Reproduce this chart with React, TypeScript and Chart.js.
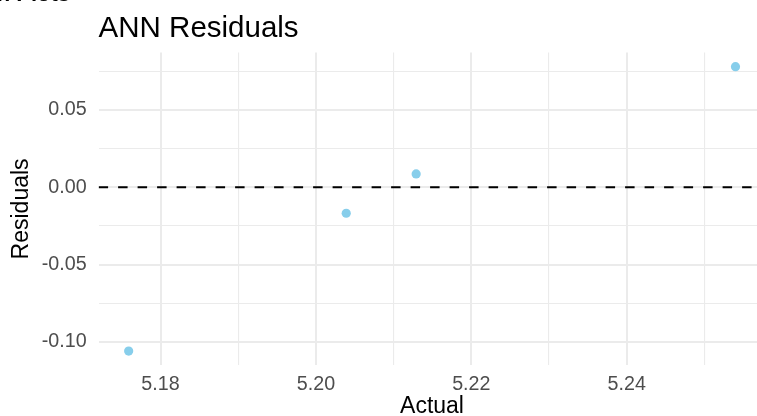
import React, { useEffect, useRef } from "react";
import { Chart, registerables } from "chart.js";

Chart.register(...registerables);

// ---- data ----
const actual = [5.1759, 5.2039, 5.2129, 5.254];
const residuals = [-0.106, -0.0168, 0.0086, 0.078];
const xMajorTicks = [5.18, 5.2, 5.22, 5.24];
const xMinorTicks = [5.19, 5.21, 5.23, 5.25];
const yMajorTicks = [-0.1, -0.05, 0, 0.05];
const yMinorTicks = [-0.075, -0.025, 0.025, 0.075];
const xLimits = [5.17203, 5.25785];
const yLimits = [-0.1152, 0.0872];
const referenceLineY = 0;
const titleText = "ANN Residuals";
const xTitle = "Actual";
const yTitle = "Residuals";
const headingText = "n Plots";

const FONT = '"Liberation Sans", Arial, Helvetica, sans-serif';

const isIn = (arr: number[], v: number) => arr.some((a) => Math.abs(a - v) < 1e-9);

export default function App() {
  const canvasRef = useRef<HTMLCanvasElement | null>(null);

  useEffect(() => {
    const canvas = canvasRef.current;
    if (!canvas) return;

    const titlePlugin = {
      id: "customTitle",
      afterDraw(chart: any) {
        const ctx = chart.ctx;
        ctx.save();
        ctx.fillStyle = "#000000";
        ctx.textBaseline = "alphabetic";
        ctx.textAlign = "left";
        ctx.font = `29.5px ${FONT}`;
        ctx.fillText(titleText, chart.chartArea.left, 36.7);
        ctx.font = `bold 22px ${FONT}`;
        ctx.textAlign = "right";
        ctx.fillText(headingText, 70, 0.8);
        ctx.restore();
      },
    };

    const chart = new Chart(canvas, {
      type: "scatter",
      data: {
        datasets: [
          {
            type: "scatter",
            label: "Residuals",
            data: actual.map((x, i) => ({ x, y: residuals[i] })),
            backgroundColor: "#87CEEB",
            borderWidth: 0,
            pointRadius: 4.6,
            pointHoverRadius: 4.6,
            order: 0,
          },
          {
            type: "line",
            label: "zero",
            data: [
              { x: xLimits[0], y: referenceLineY },
              { x: xLimits[1], y: referenceLineY },
            ],
            borderColor: "#000000",
            borderWidth: 2,
            borderDash: [9.5, 10],
            pointRadius: 0,
            fill: false,
            order: 1,
          } as any,
        ],
      },
      options: {
        responsive: false,
        animation: false,
        layout: { padding: { top: 52.5, right: 2.6, bottom: 0, left: 0 } },
        plugins: {
          legend: { display: false },
          tooltip: { enabled: false },
          title: { display: false },
        },
        scales: {
          x: {
            type: "linear",
            min: xLimits[0],
            max: xLimits[1],
            afterBuildTicks: (s: any) => {
              s.ticks = [...xMajorTicks, ...xMinorTicks]
                .sort((a, b) => a - b)
                .map((value) => ({ value }));
            },
            afterFit: (s: any) => {
              s.height = 50.7;
            },
            ticks: {
              autoSkip: false,
              maxRotation: 0,
              padding: 7,
              color: "#4D4D4D",
              font: { family: FONT, size: 19.7 },
              callback: (v: any) => (isIn(xMajorTicks, Number(v)) ? Number(v).toFixed(2) : ""),
            },
            grid: {
              color: "#EBEBEB",
              lineWidth: (ctx: any) => (ctx.tick && isIn(xMajorTicks, ctx.tick.value) ? 2 : 1.1),
              drawTicks: false,
            },
            border: { display: false },
            title: {
              display: true,
              text: xTitle,
              color: "#000000",
              font: { family: FONT, size: 23, lineHeight: 0.8 },
              padding: 0,
            },
          },
          y: {
            type: "linear",
            min: yLimits[0],
            max: yLimits[1],
            afterBuildTicks: (s: any) => {
              s.ticks = [...yMajorTicks, ...yMinorTicks]
                .sort((a, b) => a - b)
                .map((value) => ({ value }));
            },
            afterFit: (s: any) => {
              s.width = 98.6;
            },
            ticks: {
              autoSkip: false,
              padding: 12,
              color: "#4D4D4D",
              font: { family: FONT, size: 19.7 },
              callback: (v: any) => (isIn(yMajorTicks, Number(v)) ? Number(v).toFixed(2) : ""),
            },
            grid: {
              color: "#EBEBEB",
              lineWidth: (ctx: any) => (ctx.tick && isIn(yMajorTicks, ctx.tick.value) ? 2 : 1.1),
              drawTicks: false,
            },
            border: { display: false },
            title: {
              display: true,
              text: yTitle,
              color: "#000000",
              font: { family: FONT, size: 23, lineHeight: 1.2 },
              padding: { top: 8, bottom: 0 },
            },
          },
        },
      },
      plugins: [titlePlugin],
    });

    return () => chart.destroy();
  }, []);

  return (
    <div
      style={{
        position: "fixed",
        left: 0,
        top: 0,
        width: 757,
        height: 416,
        overflow: "hidden",
        background: "#ffffff",
      }}
    >
      <canvas ref={canvasRef} width={770} height={416} style={{ display: "block" }} />
    </div>
  );
}
